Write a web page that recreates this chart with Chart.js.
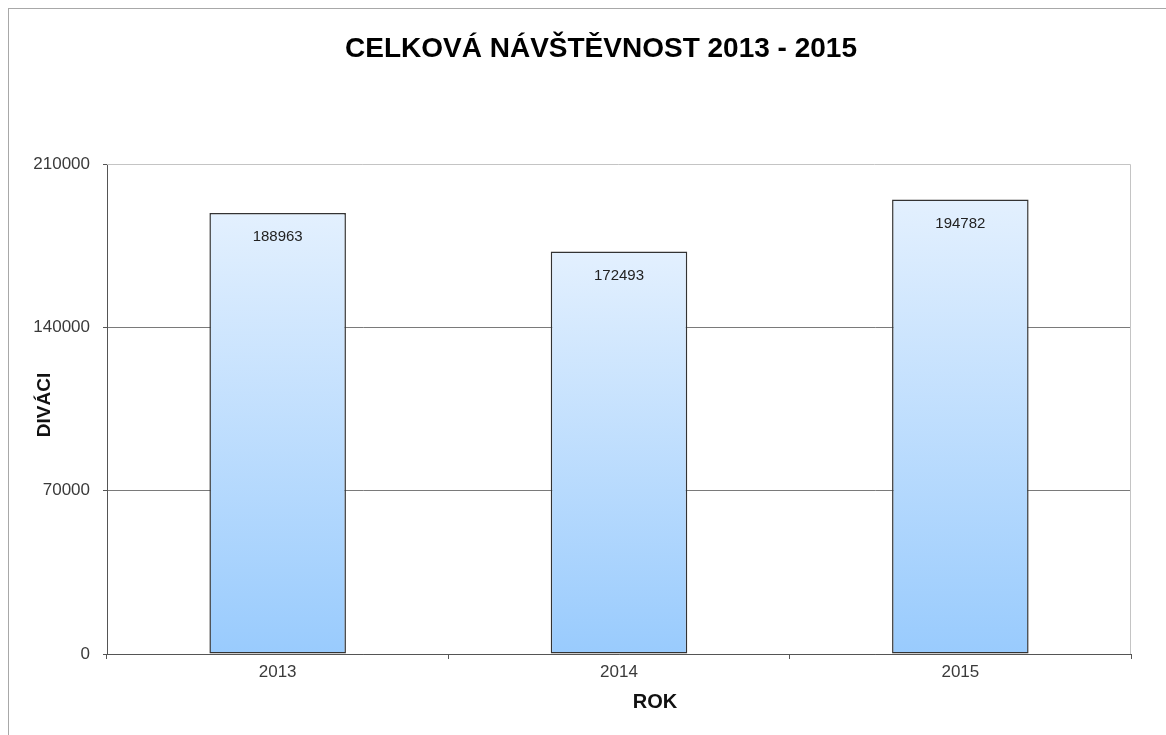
<!DOCTYPE html>
<html>
<head>
<meta charset="utf-8">
<script src="https://cdn.jsdelivr.net/npm/chart.js@4.4.1/dist/chart.umd.min.js"></script>
<style>
  html, body { margin: 0; padding: 0; background: #fff; overflow: hidden; }
  #wrap { position: relative; width: 1166px; height: 735px; }
  #frame { position: absolute; left: 8px; top: 8px; width: 2000px; height: 2000px; border: 1px solid #a8a8a8; pointer-events: none; }
</style>
</head>
<body>
<div id="wrap">
  <canvas id="c" width="1166" height="735"></canvas>
  <div id="frame"></div>
</div>
<script>
const categories = ['2013', '2014', '2015'];
const visitors = [188963, 172493, 194782];
const yTicks = [0, 70000, 140000, 210000];
const chartTitle = 'CELKOVÁ NÁVŠTĚVNOST 2013 - 2015';
const yTitle = 'DIVÁCI';
const xTitle = 'ROK';

const FONT = '"Liberation Sans", Arial, sans-serif';

const decorPlugin = {
  id: 'decor',
  beforeDatasetsDraw(chart) {
    const { ctx, chartArea: a } = chart;
    ctx.save();
    ctx.strokeStyle = '#c4c4c4';
    ctx.lineWidth = 1;
    ctx.beginPath();
    ctx.moveTo(a.left, a.top + 0.5);
    ctx.lineTo(a.right - 0.5, a.top + 0.5);
    ctx.lineTo(a.right - 0.5, a.bottom);
    ctx.stroke();
    ctx.restore();
  },
  afterDatasetsDraw(chart) {
    const { ctx } = chart;
    const meta = chart.getDatasetMeta(0);
    ctx.save();
    ctx.font = '15px ' + FONT;
    ctx.fillStyle = '#222';
    ctx.textAlign = 'center';
    ctx.textBaseline = 'middle';
    meta.data.forEach((bar, i) => {
      ctx.fillText(String(visitors[i]), bar.x, bar.y + 24);
    });
    ctx.restore();
  },
  afterDraw(chart) {
    const { ctx } = chart;
    ctx.save();
    ctx.fillStyle = '#000';
    ctx.textAlign = 'center';
    ctx.textBaseline = 'middle';
    ctx.font = 'bold 28px ' + FONT;
    ctx.fillText(chartTitle, 601, 49);
    ctx.fillStyle = '#111';
    ctx.font = 'bold 20px ' + FONT;
    ctx.fillText(xTitle, 655, 702);
    ctx.translate(45, 405);
    ctx.rotate(-Math.PI / 2);
    ctx.font = 'bold 19px ' + FONT;
    ctx.fillText(yTitle, 0, 0);
    ctx.restore();
  }
};

new Chart(document.getElementById('c'), {
  type: 'bar',
  data: {
    labels: categories,
    datasets: [{
      data: visitors,
      backgroundColor(context) {
        const chart = context.chart;
        const a = chart.chartArea;
        if (!a || context.dataIndex === undefined) return '#bcdcfe';
        const y = chart.scales.y;
        const top = y.getPixelForValue(visitors[context.dataIndex]);
        const bottom = y.getPixelForValue(0);
        const g = chart.ctx.createLinearGradient(0, top, 0, bottom);
        g.addColorStop(0, '#e3f0fe');
        g.addColorStop(1, '#99cbfd');
        return g;
      },
      borderColor: '#333',
      borderWidth: 1.5,
      borderSkipped: false,
      categoryPercentage: 1.0,
      barPercentage: 0.4
    }]
  },
  options: {
    responsive: false,
    animation: false,
    devicePixelRatio: 1,
    layout: { padding: { left: 0, right: 35, top: 164, bottom: 41 } },
    plugins: {
      legend: { display: false },
      title: { display: false },
      tooltip: { enabled: false }
    },
    scales: {
      x: {
        afterFit(scale) { scale.height = 40; },
        grid: {
          offset: true,
          drawOnChartArea: false,
          tickColor: '#555',
          tickLength: 5
        },
        border: { color: '#555', width: 1 },
        ticks: {
          color: '#3a3a3a',
          font: { family: FONT, size: 17 },
          padding: 3
        }
      },
      y: {
        min: 0,
        max: 210000,
        afterFit(scale) { scale.width = 107; },
        afterBuildTicks(scale) { scale.ticks = yTicks.map(v => ({ value: v })); },
        grid: {
          color(ctx) { return (ctx.tick && ctx.tick.value === 210000) ? 'rgba(0,0,0,0)' : '#7a7a7a'; },
          tickColor: '#555',
          tickLength: 4
        },
        border: { color: '#555', width: 1 },
        ticks: {
          color: '#3a3a3a',
          font: { family: FONT, size: 17 },
          padding: 13,
          callback(value) { return String(value); }
        }
      }
    }
  },
  plugins: [decorPlugin]
});
</script>
</body>
</html>
